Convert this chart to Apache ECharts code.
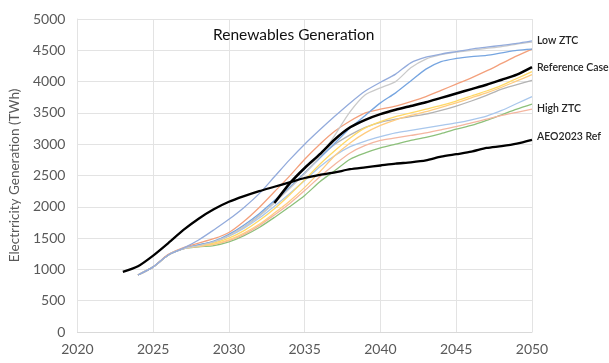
<!DOCTYPE html>
<html><head><meta charset="utf-8">
<script src="https://cdn.jsdelivr.net/npm/echarts@6/dist/echarts.min.js"></script>
<style>html,body{margin:0;padding:0;background:#fff}#c{width:609px;height:363px}</style>
</head><body><div id="c"></div>
<script>
const years = [2024,2025,2026,2027,2028,2029,2030,2031,2032,2033,2034,2035,2036,2037,2038,2039,2040,2041,2042,2043,2044,2045,2046,2047,2048,2049,2050];
const refYears = [2033,2034,2035,2036,2037,2038,2039,2040,2041,2042,2043,2044,2045,2046,2047,2048,2049,2050];
const aeoYears = [2023,2024,2025,2026,2027,2028,2029,2030,2031,2032,2033,2034,2035,2036,2037,2038,2039,2040,2041,2042,2043,2044,2045,2046,2047,2048,2049,2050];
const xTicks = [2020,2025,2030,2035,2040,2045,2050];
const yTicks = [0,500,1000,1500,2000,2500,3000,3500,4000,4500,5000];

const lowZTC     = [910,1040,1230,1340,1470,1630,1800,1990,2210,2480,2750,3000,3230,3450,3660,3850,3990,4120,4300,4390,4440,4480,4520,4550,4580,4610,4650];
const grayHigh   = [910,1040,1230,1330,1380,1440,1540,1680,1850,2060,2290,2530,2800,3150,3520,3790,3900,4000,4220,4360,4430,4470,4500,4530,4560,4600,4630];
const blueMid    = [910,1040,1230,1330,1390,1450,1560,1710,1890,2100,2310,2540,2780,3020,3260,3460,3660,3820,4010,4200,4320,4370,4400,4420,4460,4500,4520];
const orange     = [910,1040,1240,1350,1420,1490,1590,1770,1990,2240,2490,2760,3000,3210,3370,3500,3560,3610,3680,3760,3860,3960,4060,4170,4290,4410,4520];
const refCase    = [2060,2370,2620,2840,3080,3270,3390,3480,3550,3610,3670,3740,3810,3880,3950,4030,4110,4230];
const yellow1    = [910,1040,1230,1330,1380,1420,1500,1620,1780,1970,2190,2430,2680,2900,3100,3260,3360,3440,3500,3560,3620,3690,3770,3850,3940,4050,4160];
const yellow2    = [910,1040,1230,1330,1370,1400,1470,1580,1720,1900,2090,2310,2560,2820,3020,3180,3300,3390,3460,3520,3590,3660,3740,3820,3910,4010,4110];
const grayLow    = [910,1040,1230,1330,1390,1440,1540,1680,1860,2070,2300,2540,2790,3000,3150,3270,3350,3400,3440,3480,3540,3610,3690,3780,3880,3950,4020];
const lightBlue  = [910,1040,1230,1330,1390,1440,1530,1660,1820,2010,2210,2420,2640,2820,2960,3050,3120,3180,3220,3260,3300,3340,3390,3450,3540,3650,3760];
const highZTC    = [910,1040,1230,1330,1370,1400,1460,1560,1700,1870,2050,2260,2480,2680,2860,2980,3060,3100,3140,3180,3230,3280,3340,3400,3460,3510,3560];
const green      = [910,1040,1230,1330,1360,1380,1440,1540,1670,1830,2000,2180,2400,2580,2760,2860,2940,3000,3060,3110,3170,3240,3300,3380,3470,3560,3640];
const aeo2023    = [960,1050,1220,1420,1630,1810,1960,2080,2170,2250,2320,2390,2460,2510,2550,2600,2630,2660,2690,2710,2740,2800,2840,2880,2940,2970,3010,3070];

const pair = (xs, ys) => xs.map((x, i) => [x, ys[i]]);
const labelStyle = {fontFamily: 'Lato, sans-serif', fontSize: 10.5, fontWeight: 600, color: '#262626'};

function line(name, data, color, width, label, offY) {
  const s = {
    name, type: 'line', data, smooth: 0.25, symbol: 'none',
    lineStyle: {color, width}, itemStyle: {color}, z: width > 2 ? 5 : 2
  };
  if (label) {
    s.endLabel = Object.assign({show: true, formatter: label, distance: 5, offset: [0, offY || 0]}, labelStyle);
  }
  return s;
}

const chart = echarts.init(document.getElementById('c'), null, {renderer: 'canvas'});
chart.setOption({
  animation: false,
  backgroundColor: '#fff',
  title: {
    text: 'Renewables Generation', left: 208, top: 22,
    textStyle: {fontFamily: 'Lato, sans-serif', fontSize: 15.5, fontWeight: 'normal', color: '#111'}
  },
  grid: {left: 65, right: 77, top: 19, bottom: 31, containLabel: false},
  xAxis: {
    type: 'value', min: xTicks[0], max: xTicks[xTicks.length - 1], interval: 5,
    axisLine: {show: true, lineStyle: {color: '#d9d9d9'}},
    axisTick: {show: false},
    splitLine: {show: true, lineStyle: {color: '#e3e3e3'}},
    axisLabel: {fontFamily: 'Lato, sans-serif', fontSize: 14, color: '#595959', margin: 10, formatter: v => String(v)}
  },
  yAxis: {
    type: 'value', min: yTicks[0], max: yTicks[yTicks.length - 1], interval: 500,
    name: 'Electrricity Generation (TWh)', nameLocation: 'middle', nameGap: 50, nameRotate: 90,
    nameTextStyle: {fontFamily: 'Lato, sans-serif', fontSize: 13.5, color: '#595959'},
    axisLine: {show: true, lineStyle: {color: '#e3e3e3'}},
    axisTick: {show: false},
    splitLine: {show: true, lineStyle: {color: '#e3e3e3'}},
    axisLabel: {fontFamily: 'Lato, sans-serif', fontSize: 14, color: '#595959', margin: 12, formatter: v => String(v)}
  },
  series: [
    line('Reference Case', pair(refYears, refCase), '#000000', 2.5, 'Reference Case', 0),
    line('Green', pair(years, green), '#8cc07a', 1.3),
    line('High ZTC', pair(years, highZTC), '#f4b6a0', 1.3, 'High ZTC', -1),
    line('Light blue', pair(years, lightBlue), '#a9c7ec', 1.3),
    line('Gray low', pair(years, grayLow), '#b3b3b3', 1.3),
    line('Yellow 2', pair(years, yellow2), '#ffcc80', 1.3),
    line('Yellow 1', pair(years, yellow1), '#ffd966', 1.3),
    line('Orange', pair(years, orange), '#f3a07c', 1.3),
    line('Blue mid', pair(years, blueMid), '#76a5e0', 1.3),
    line('Gray high', pair(years, grayHigh), '#cacaca', 1.3),
    line('Low ZTC', pair(years, lowZTC), '#93abdc', 1.3, 'Low ZTC', 0),
    line('AEO2023 Ref', pair(aeoYears, aeo2023), '#000000', 2.3, 'AEO2023 Ref', -3)
  ]
});
</script></body></html>
